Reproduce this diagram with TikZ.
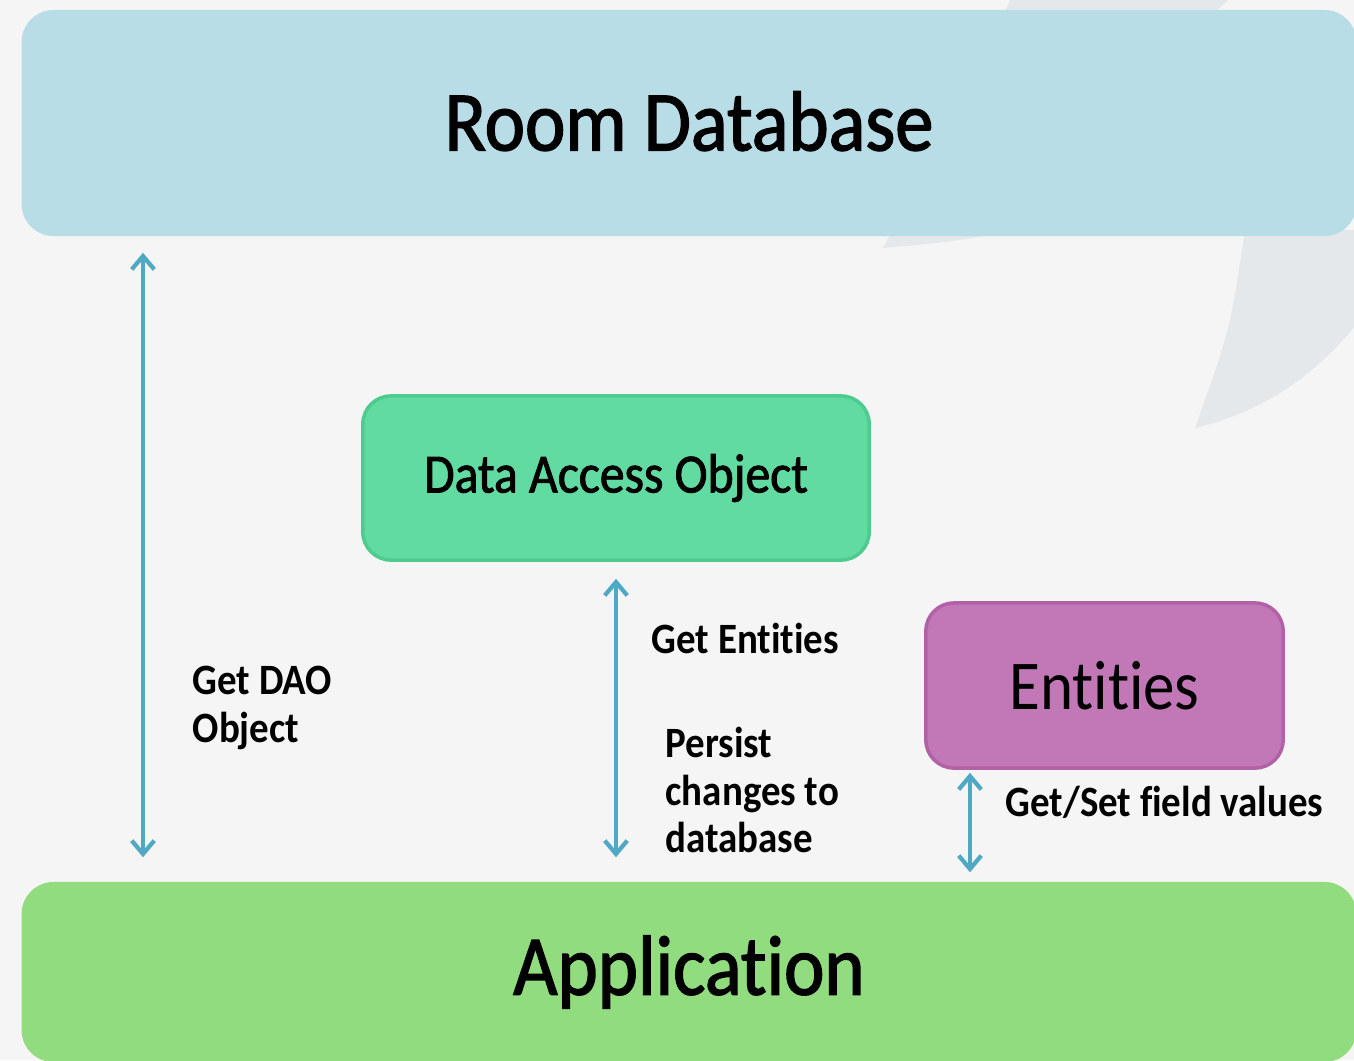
\documentclass[tikz,border=0pt]{standalone}
\usepackage{fontspec}
\setmainfont{Carlito}[FakeStretch=0.9, Ligatures=NoCommon]
\newfontfamily\heavyfont{Carlito}[FakeStretch=0.9, FakeBold=1.6, Ligatures=NoCommon]
\usetikzlibrary{arrows.meta}

\definecolor{backgray}{HTML}{F5F5F5}
\definecolor{decogray}{HTML}{E4E8EB}
\definecolor{roomblue}{HTML}{B8DDE7}
\definecolor{appgreen}{HTML}{92DC80}
\definecolor{daogreen}{HTML}{62DBA3}
\definecolor{daoedge}{HTML}{4DCC8E}
\definecolor{entpurple}{HTML}{C277B7}
\definecolor{entedge}{HTML}{B162A6}
\definecolor{arrowblue}{HTML}{4FA8C4}

\begin{document}
\begin{tikzpicture}[x=0.01cm,y=-0.01cm,
  layer/.style={fill=#1, rounded corners=0.32cm, inner sep=0pt,
    minimum width=13.34cm, font=\heavyfont\fontsize{24.2}{29}\selectfont},
  block/.style={rounded corners=0.28cm, inner sep=0pt, line width=1pt},
  lbl/.style={font=\bfseries\fontsize{12.3}{13.4}\selectfont, align=left, inner sep=0pt},
  link/.style={draw=arrowblue, line width=1.2pt,
    {Straight Barb[length=3.8pt,width=6.4pt]}-{Straight Barb[length=3.8pt,width=6.4pt]}}]

\clip (0,0) rectangle (1354,1060);
\fill[backgray] (0,0) rectangle (1354,1060);

% background decoration
\fill[decogray] (1013,-5) -- (1233,-5) -- (985,236) .. controls (940,243) .. (883,248)
  .. controls (940,140) .. (1013,-5) -- cycle;
\fill[decogray] (1245,230) .. controls (1230,330) .. (1195,428)
  .. controls (1270,410) and (1320,370) .. (1360,320) -- (1360,230) -- cycle;

% layers
\node[layer=roomblue, minimum height=2.26cm] (room) at (689,123) {\raisebox{1.2pt}{Room Database}};
\node[layer=appgreen, minimum height=1.80cm] (app) at (689,972) {Application};

% blocks
\node[block, fill=daogreen, draw=daoedge, minimum width=5.06cm, minimum height=1.64cm,
  font=\heavyfont\fontsize{15.7}{19}\selectfont] (dao) at (616,478) {Data Access Object};
\node[block, fill=entpurple, draw=entedge, minimum width=3.57cm, minimum height=1.65cm,
  font=\fontsize{19.9}{24}\selectfont] (entities) at (1104.5,685.5) {Entities};

% arrows
\coordinate (left) at (143,0);
\coordinate (right) at (970,0);
\draw[link, shorten <=0.16cm, shorten >=0.24cm] (room.south -| left) -- (app.north -| left);
\draw[link, shorten <=0.17cm, shorten >=0.24cm] (dao.south) -- (app.north -| dao.south);
\draw[link, shorten <=0.03cm, shorten >=0.09cm] (entities.south -| right) -- (app.north -| right);

% labels
\node[lbl, anchor=west] (getdao) at (192,708) {Get DAO\\Object};
\node[lbl, anchor=west] (getent) at (651,638) {Get Entities};
\node[lbl, anchor=west] (persist) at (665,790) {Persist\\changes to\\database};
\node[lbl, anchor=west] (getset) at (1005,802) {Get/Set field values};

\end{tikzpicture}
\end{document}
